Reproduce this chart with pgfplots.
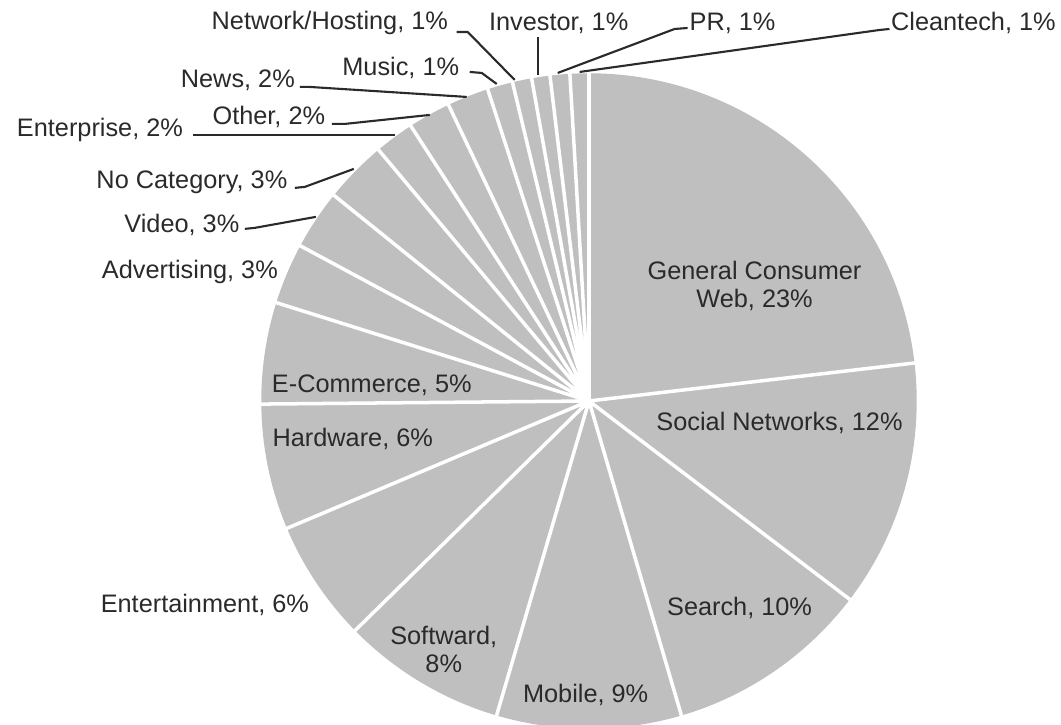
\documentclass[border=0pt]{standalone}
\usepackage{pgfplots}
\usepackage{pgfplotstable}
\usepackage{fontspec}
\setmainfont{Liberation Sans}
\pgfplotsset{compat=1.18}
\usepgfplotslibrary{polar}

\definecolor{slice}{RGB}{191,191,191}
\definecolor{ink}{RGB}{42,42,42}
\newcommand\lbl{\fontsize{7.2}{8}\selectfont}

% share of each category (percent), clockwise from 12 o'clock
\pgfplotstableread[col sep=comma]{
cat,pct
General Consumer Web,23.15
Social Networks,12.2
Search,10.1
Mobile,9.1
Softward,8.1
Entertainment,6.0
Hardware,6.2
E-Commerce,5.0
Advertising,3.0
Video,2.95
No Category,3.1
Enterprise,1.95
Other,2.1
News,2.05
Music,1.25
Network/Hosting,0.95
Investor,0.9
PR,0.97
Cleantech,0.93
}\shares
\pgfplotstablecreatecol[create col/expr accum={\pgfmathaccuma+\thisrow{pct}}{0}]{cum}{\shares}

\pgfplotsset{pie/.style={
  at={(5.89cm,-4.01cm)}, anchor=center,
  width=6.54cm, height=6.54cm, scale only axis,
  xmin=0, xmax=360, ymin=0, ymax=327,
  enlargelimits=false,
  xtick=\empty, ytick=\empty,
  axis line style={draw=none},
  clip=false,
}}

\begin{document}
\begin{tikzpicture}
\useasboundingbox (0,0) rectangle (10.61cm,-7.25cm);
\begin{polaraxis}[pie]
% the whole pie
\addplot[only marks, mark=*, mark size=3.27cm,
  mark options={fill=slice, draw=slice}] coordinates {(0,0)};
\end{polaraxis}
\begin{polaraxis}[pie]
% slice borders at the running total of the shares
\addplot[polar comb, draw=white, line width=1pt]
  table[x expr={90-3.6*\thisrow{cum}}, y expr={330}] {\shares};
\end{polaraxis}

\begin{scope}[x=0.01cm, y=-0.01cm, font=\lbl, text=ink]
\node[align=center] at (755,286) {General Consumer\\Web, 23\%};
\node at (780,423) {Social Networks, 12\%};
\node at (740,608) {Search, 10\%};
\node at (586,695) {Mobile, 9\%};
\node[align=center] at (444,650) {Softward,\\8\%};
\node at (205,605) {Entertainment, 6\%};
\node at (353,439) {Hardware, 6\%};
\node at (372,386) {E-Commerce, 5\%};
\node at (190,272) {Advertising, 3\%};
\node at (182,225) {Video, 3\%};
\node at (192,182) {No Category, 3\%};
\node at (100,130) {Enterprise, 2\%};
\node at (269,117) {Other, 2\%};
\node at (238,80) {News, 2\%};
\node at (401,68) {Music, 1\%};
\node at (330,23) {Network/Hosting, 1\%};
\node at (559,23) {Investor, 1\%};
\node at (733,23) {PR, 1\%};
\node at (974,23) {Cleantech, 1\%};

\begin{scope}[draw=ink, line width=0.6pt]
\draw (245,229) -- (255,228) -- (316,217);
\draw (295,188) -- (305,187) -- (354,169);
\draw (193,135) -- (395,135);
\draw (332,124) -- (345,124) -- (430,115);
\draw (300,87) -- (310,87) -- (467,97);
\draw (470,72) -- (482,73) -- (497,84);
\draw (457,32) -- (468,32) -- (515,80);
\draw (538,37) -- (538,75);
\draw (688,28) -- (675,29) -- (558,73);
\draw (890,29) -- (880,30) -- (580,72);
\end{scope}
\end{scope}
\end{tikzpicture}
\end{document}
